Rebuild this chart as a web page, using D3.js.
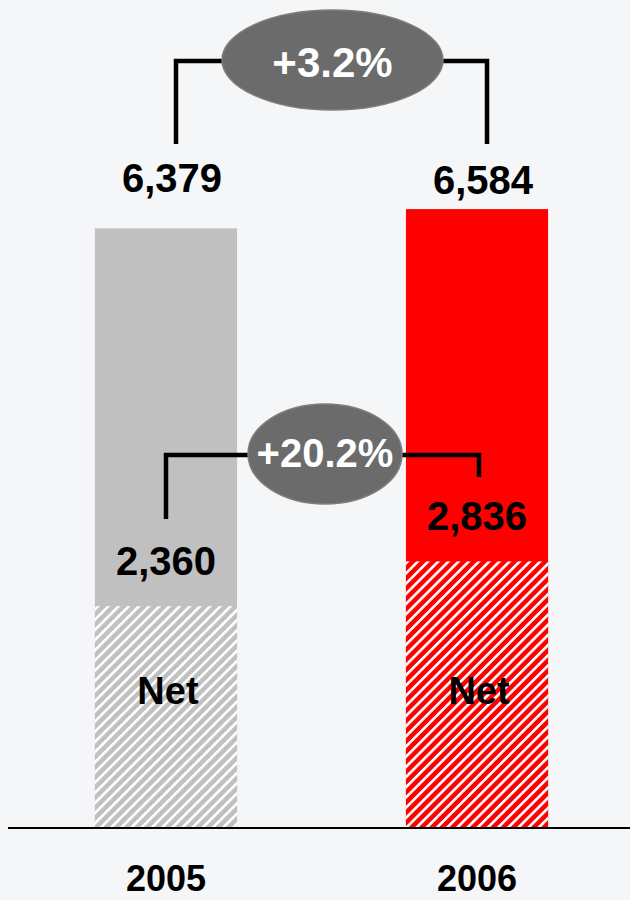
<!DOCTYPE html>
<html>
<head>
<meta charset="utf-8">
<script src="https://cdn.jsdelivr.net/npm/d3@7"></script>
<style>
  html, body { margin: 0; padding: 0; background: #f5f6f8; }
  svg { display: block; }
  text { font-family: "Liberation Sans", Arial, sans-serif; font-weight: bold; }
</style>
</head>
<body>
<script>
// Chart data
const years = ["2005", "2006"];
const totals = [6379, 6584];
const nets = [2360, 2836];
const totalGrowth = "+3.2%";
const netGrowth = "+20.2%";
const netLabel = "Net";
const barColors = ["#c0c0c0", "#ff0000"];

const W = 630, H = 900;
const baseY = 828;

const svg = d3.select("body").append("svg")
  .attr("width", W).attr("height", H);

svg.append("rect").attr("width", W).attr("height", H).attr("fill", "#f5f6f8");

const x = d3.scaleBand().domain(years).range([24, 619])
  .paddingInner(0.543).paddingOuter(0.228);
const y = d3.scaleLinear().domain([0, 7000]).range([baseY, 170]);

// Diagonal hatch patterns for the net portion
const defs = svg.append("defs");
const hp = 7.2;
barColors.forEach((c, i) => {
  const p = defs.append("pattern")
    .attr("id", "hatch" + i)
    .attr("patternUnits", "userSpaceOnUse")
    .attr("width", hp).attr("height", hp)
    .attr("patternTransform", "rotate(45)");
  p.append("rect").attr("width", hp).attr("height", hp).attr("fill", c);
  p.append("rect").attr("x", 0).attr("width", 2.6).attr("height", hp).attr("fill", "#ffffff");
});

const data = years.map((yr, i) => ({ yr, total: totals[i], net: nets[i], i }));

// Total bars
svg.selectAll("rect.total").data(data).join("rect")
  .attr("class", "total")
  .attr("x", d => x(d.yr))
  .attr("width", x.bandwidth())
  .attr("y", d => y(d.total))
  .attr("height", d => baseY - y(d.total))
  .attr("fill", d => barColors[d.i]);

// Net bars (hatched)
svg.selectAll("rect.net").data(data).join("rect")
  .attr("class", "net")
  .attr("x", d => x(d.yr))
  .attr("width", x.bandwidth())
  .attr("y", d => y(d.net))
  .attr("height", d => baseY - y(d.net))
  .attr("fill", d => `url(#hatch${d.i})`);

// Baseline
svg.append("line")
  .attr("x1", 8).attr("x2", W)
  .attr("y1", baseY).attr("y2", baseY)
  .attr("stroke", "#000").attr("stroke-width", 2);

const cx = d => x(d.yr) + x.bandwidth() / 2;
const fmt = d3.format(",");

// Total value labels
svg.selectAll("text.total").data(data).join("text")
  .attr("class", "total")
  .attr("x", d => cx(d) + 6)
  .attr("y", (d, i) => [192, 194][i])
  .attr("text-anchor", "middle")
  .attr("font-size", 40)
  .attr("fill", "#000")
  .text(d => fmt(d.total));

// Net value labels
svg.selectAll("text.netval").data(data).join("text")
  .attr("class", "netval")
  .attr("x", d => cx(d))
  .attr("y", d => y(d.net) - 31)
  .attr("text-anchor", "middle")
  .attr("font-size", 40)
  .attr("fill", "#000")
  .text(d => fmt(d.net));

// "Net" labels
svg.selectAll("text.netname").data(data).join("text")
  .attr("class", "netname")
  .attr("x", d => cx(d) + 2)
  .attr("y", 704)
  .attr("text-anchor", "middle")
  .attr("font-size", 38)
  .attr("fill", "#000")
  .text(netLabel);

// Year labels
svg.selectAll("text.year").data(data).join("text")
  .attr("class", "year")
  .attr("x", d => cx(d))
  .attr("y", 891)
  .attr("text-anchor", "middle")
  .attr("font-size", 36)
  .attr("fill", "#000")
  .text(d => d.yr);

// Growth brackets with oval badges
function bracket(x1, y1, x2, y2, yTop, ex, ey, rx, ry, label, fs, ty) {
  svg.append("path")
    .attr("d", `M${x1},${y1}V${yTop}H${x2}V${y2}`)
    .attr("fill", "none").attr("stroke", "#000").attr("stroke-width", 4.5)
    .attr("stroke-linejoin", "miter");
  svg.append("ellipse")
    .attr("cx", ex).attr("cy", ey).attr("rx", rx).attr("ry", ry)
    .attr("fill", "#6b6b6b").attr("stroke", "#7d7d7d").attr("stroke-width", 1.5);
  svg.append("text")
    .attr("x", ex).attr("y", ty)
    .attr("text-anchor", "middle")
    .attr("font-size", fs)
    .attr("fill", "#ffffff")
    .text(label);
}

const c0 = cx(data[0]), c1 = cx(data[1]);
bracket(c0 + 10, 144, c1 + 10, 144, 61, 332.5, 60, 110.5, 50, totalGrowth, 42, 77);
bracket(c0, 519, c1 + 2, 477, 455, 325, 454, 77, 50, netGrowth, 40, 467);
</script>
</body>
</html>
